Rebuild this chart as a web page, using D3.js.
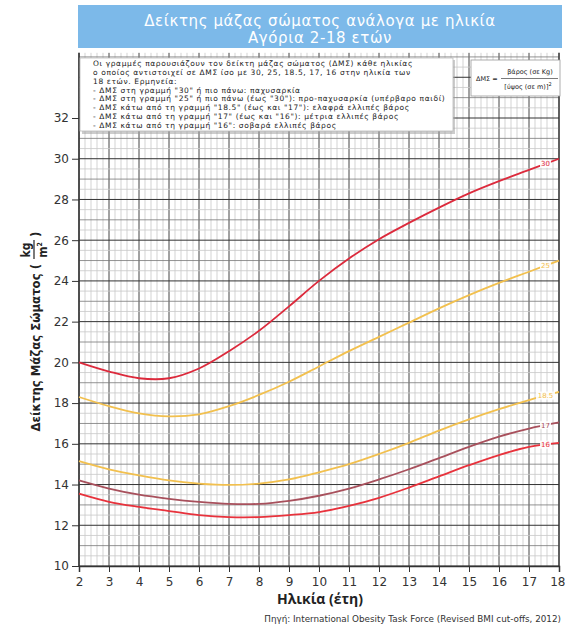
<!DOCTYPE html>
<html><head><meta charset="utf-8">
<script src="https://cdn.jsdelivr.net/npm/d3@7"></script>
<style>body{margin:0;background:#fff}svg{display:block}</style>
</head><body>
<svg id="c" width="565" height="627"></svg>
<script>
const ages = [2,3,4,5,6,7,8,9,10,11,12,13,14,15,16,17,18];
const bmi30  = [20.0,19.55,19.22,19.22,19.7,20.55,21.55,22.75,24.0,25.1,26.05,26.85,27.6,28.3,28.9,29.45,30.0];
const bmi25  = [18.3,17.85,17.5,17.35,17.45,17.85,18.4,19.05,19.8,20.55,21.25,21.95,22.65,23.3,23.9,24.45,25.0];
const bmi185 = [15.15,14.75,14.45,14.2,14.05,13.98,14.05,14.25,14.6,15.0,15.5,16.05,16.65,17.2,17.7,18.15,18.55];
const bmi17  = [14.2,13.8,13.5,13.3,13.15,13.05,13.05,13.2,13.45,13.8,14.25,14.75,15.3,15.85,16.35,16.75,17.05];
const bmi16  = [13.55,13.15,12.9,12.7,12.5,12.4,12.4,12.5,12.65,12.95,13.35,13.85,14.4,14.95,15.45,15.85,16.05];
const seriesNames = ["30","25","18.5","17","16"];
const seriesColors = ["#dc2a3c","#f2c04e","#f2c04e","#a8505c","#e8323c"];
const xTicks = d3.range(2,19,1);
const yTicks = d3.range(10,33,2);
const titleLines = ["Δείκτης μάζας σώματος ανάλογα με ηλικία","Αγόρια 2-18 ετών"];
const noteLines = [
 "Οι γραμμές παρουσιάζουν τον δείκτη μάζας σώματος (ΔΜΣ) κάθε ηλικίας",
 "ο οποίος αντιστοιχεί σε ΔΜΣ ίσο με 30, 25, 18.5, 17, 16 στην ηλικία των",
 "18 ετών. Ερμηνεία:",
 "- ΔΜΣ στη γραμμή \"30\" ή πιο πάνω: παχυσαρκία",
 "- ΔΜΣ στη γραμμή \"25\" ή πιο πάνω (έως \"30\"): προ-παχυσαρκία (υπέρβαρο παιδί)",
 "- ΔΜΣ κάτω από τη γραμμή \"18.5\" (έως και \"17\"): ελαφρά ελλιπές βάρος",
 "- ΔΜΣ κάτω από τη γραμμή \"17\" (έως και \"16\"): μέτρια ελλιπές βάρος",
 "- ΔΜΣ κάτω από τη γραμμή \"16\": σοβαρά ελλιπές βάρος"
];
const allSeries = [bmi30,bmi25,bmi185,bmi17,bmi16];

const svg = d3.select("#c");
const font = "'DejaVu Sans',sans-serif";
const cond = "'DejaVu Sans Condensed','DejaVu Sans',sans-serif";
const x = d3.scaleLinear().domain([2,18]).range([79,559]);
const y = d3.scaleLinear().domain([10,32]).range([566,118]);
const yTop = 35.2;

// title banner
svg.append("rect").attr("x",78).attr("y",5).attr("width",484).attr("height",43).attr("fill","#7cb9e9");
titleLines.forEach((t,i)=>svg.append("text").attr("x",320).attr("y",25.5+i*17.6).attr("text-anchor","middle")
  .attr("fill","#fff").attr("font-family",font).attr("font-size",15).attr("letter-spacing",0.6).text(t));

// grid
const g = svg.append("g");
d3.range(2,18.001,0.2).forEach(v=>{
  const major = Math.abs(v-Math.round(v))<1e-6;
  g.append("line").attr("x1",x(v)).attr("x2",x(v)).attr("y1",y(yTop)).attr("y2",y(10))
   .attr("stroke",major?"#444":"#c8c8c8").attr("stroke-width",major?1:0.8);
});
d3.range(10,yTop+0.001,0.5).forEach(v=>{
  const r = Math.abs(v-Math.round(v))<1e-6;
  const even = r && Math.round(v)%2===0;
  g.append("line").attr("x1",x(2)).attr("x2",x(18)).attr("y1",y(v)).attr("y2",y(v))
   .attr("stroke",even?"#333":(r?"#777":"#c8c8c8")).attr("stroke-width",even?1:0.8);
});

// axes
const ya = svg.append("g").attr("transform",`translate(${x(2)},0)`)
  .call(d3.axisLeft(y).tickValues(yTicks).tickSize(7).tickPadding(3));
ya.select(".domain").attr("d",`M0,${y(yTop)}V${y(10)}`).attr("stroke","#333").attr("stroke-width",1.5);
ya.selectAll("line").attr("stroke","#333");
ya.selectAll("text").attr("font-family",font).attr("font-size",12).attr("fill","#333");
const xa = svg.append("g").attr("transform",`translate(0,${y(10)})`)
  .call(d3.axisBottom(x).tickValues(xTicks).tickSize(6).tickPadding(5));
xa.select(".domain").attr("stroke","#333").attr("stroke-width",1.5);
xa.selectAll("line").attr("stroke","#333");
xa.selectAll("text").attr("font-family",font).attr("font-size",12).attr("fill","#333");
xa.selectAll(".tick").filter(d=>d===18).select("text").attr("text-anchor","end").attr("dx",6);
svg.append("line").attr("x1",x(18)).attr("x2",x(18)).attr("y1",y(yTop)).attr("y2",y(10)).attr("stroke","#333").attr("stroke-width",1.2);

// curves
const line = d3.line().x((d,i)=>x(ages[i])).y(d=>y(d)).curve(d3.curveCatmullRom.alpha(0.5));
allSeries.forEach((s,k)=>{
  svg.append("path").datum(s).attr("d",line).attr("fill","none")
    .attr("stroke",seriesColors[k]).attr("stroke-width",1.8);
});
// curve labels
allSeries.forEach((s,k)=>{
  const a = 17.55;
  const v = s[15] + (s[16]-s[15])*(a-17);
  const name = seriesNames[k];
  const w = name.length*4+3;
  svg.append("rect").attr("x",x(a)-w/2).attr("y",y(v)-4).attr("width",w).attr("height",8).attr("fill","#fff").attr("opacity",0.9);
  svg.append("text").attr("x",x(a)).attr("y",y(v)+2.5).attr("text-anchor","middle")
    .attr("font-family",font).attr("font-size",7).attr("fill",seriesColors[k]).text(name);
});

// note box
svg.append("rect").attr("x",82).attr("y",60).attr("width",373).attr("height",74).attr("fill","#999").attr("opacity",0.5);
svg.append("rect").attr("x",80).attr("y",58).attr("width",373).attr("height",73).attr("fill","#fff").attr("stroke","#bbb").attr("stroke-width",0.8);
noteLines.forEach((t,i)=>svg.append("text").attr("x",93).attr("y",66+i*8.85).attr("font-family",font)
  .attr("font-size",7.5).attr("letter-spacing",0.62).attr("fill","#222").text(t));

// formula box
svg.append("rect").attr("x",471).attr("y",60).attr("width",89).attr("height",36).attr("fill","#fff").attr("stroke","#999").attr("stroke-width",0.8);
svg.append("text").attr("x",476).attr("y",81).attr("font-family",font).attr("font-size",6.5).attr("fill","#222").text("ΔΜΣ =");
svg.append("text").attr("x",530).attr("y",74).attr("text-anchor","middle").attr("font-family",font).attr("font-size",6.5).attr("fill","#222").text("βάρος (σε Kg)");
svg.append("line").attr("x1",501).attr("x2",558).attr("y1",78.5).attr("y2",78.5).attr("stroke","#222").attr("stroke-width",0.6);
const den = svg.append("text").attr("x",528).attr("y",89).attr("text-anchor","middle").attr("font-family",font).attr("font-size",6.5).attr("fill","#222");
den.append("tspan").text("[ύψος (σε m)]");
den.append("tspan").attr("dy",-3).attr("font-size",5).text("2");

// y label
const yl = svg.append("g").attr("transform","translate(40,256) rotate(-90)");
yl.append("text").attr("x",-8).attr("y",0).attr("text-anchor","end").attr("font-family",cond)
  .attr("font-size",13).attr("font-weight",600).attr("fill","#222").text("Δείκτης Μάζας Σώματος (");
yl.append("text").attr("x",6).attr("y",-10).attr("text-anchor","middle").attr("font-family",cond)
  .attr("font-size",12).attr("font-weight",600).attr("fill","#222").text("kg");
yl.append("line").attr("x1",-3).attr("x2",16).attr("y1",-6).attr("y2",-6).attr("stroke","#222").attr("stroke-width",1.2);
const m2 = yl.append("text").attr("x",6).attr("y",7).attr("text-anchor","middle").attr("font-family",cond)
  .attr("font-size",12).attr("font-weight",600).attr("fill","#222");
m2.append("tspan").text("m");
m2.append("tspan").attr("dy",-5).attr("font-size",7).text("2");
yl.append("text").attr("x",19).attr("y",0).attr("font-family",cond)
  .attr("font-size",13).attr("font-weight",600).attr("fill","#222").text(")");

// x label
svg.append("text").attr("x",320).attr("y",604).attr("text-anchor","middle").attr("font-family","'Open Sans',sans-serif")
  .attr("font-size",14).attr("font-weight","bold").attr("fill","#222").text("Ηλικία (έτη)");
svg.append("text").attr("x",561).attr("y",622).attr("text-anchor","end").attr("font-family",font)
  .attr("font-size",8.8).attr("fill","#333").text("Πηγή: International Obesity Task Force (Revised BMI cut-offs, 2012)");
</script>
</body></html>
